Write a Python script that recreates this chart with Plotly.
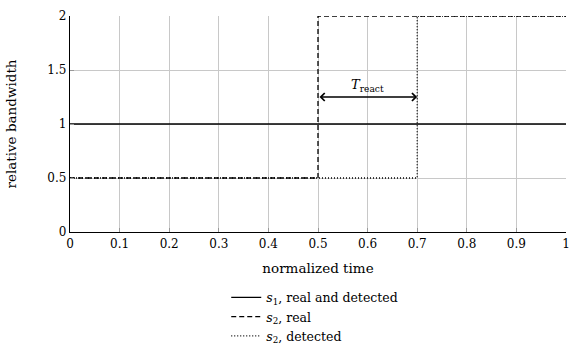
import plotly.graph_objects as go

s1_x = [0, 1]
s1_y = [1, 1]
s2_real_x = [0, 0.5, 0.5, 1]
s2_real_y = [0.5, 0.5, 2, 2]
s2_det_x = [0, 0.7, 0.7, 1]
s2_det_y = [0.5, 0.5, 2, 2]
x_ticks = [0, 0.1, 0.2, 0.3, 0.4, 0.5, 0.6, 0.7, 0.8, 0.9, 1]
y_ticks = [0, 0.5, 1, 1.5, 2]
react_start, react_end, react_y = 0.5, 0.7, 1.25

FONT = "DejaVu Serif, Liberation Serif, serif"

fig = go.Figure()
fig.add_trace(go.Scatter(x=s1_x, y=s1_y, mode="lines",
                         line=dict(color="black", width=1.3, dash="solid"),
                         name="<i>s</i><sub>1</sub>, real and detected"))
fig.add_trace(go.Scatter(x=s2_real_x, y=s2_real_y, mode="lines",
                         line=dict(color="black", width=1.3, dash="5px,3px"),
                         name="<i>s</i><sub>2</sub>, real"))
fig.add_trace(go.Scatter(x=s2_det_x, y=s2_det_y, mode="lines",
                         line=dict(color="black", width=1.3, dash="1px,2px"),
                         name="<i>s</i><sub>2</sub>, detected"))

fig.add_annotation(x=react_end, y=react_y, ax=react_start, ay=react_y,
                   xref="x", yref="y", axref="x", ayref="y",
                   text="", showarrow=True, arrowhead=4, arrowside="end+start",
                   arrowwidth=1.4, arrowcolor="black", arrowsize=1.1)
fig.add_annotation(x=(react_start + react_end) / 2, y=react_y, xref="x", yref="y",
                   text="<i>T</i><sub>react</sub>", showarrow=False,
                   yanchor="bottom", yshift=1,
                   font=dict(family=FONT, size=13, color="black"))

fig.update_xaxes(range=[0, 1], tickvals=x_ticks,
                 ticktext=[f"{v:g}" for v in x_ticks],
                 showgrid=True, gridcolor="#c8c8c8", gridwidth=1,
                 showline=True, linecolor="black", linewidth=1.3,
                 ticks="inside", ticklen=4, tickcolor="#999999",
                 zeroline=False, automargin=False, ticklabeloverflow="allow",
                 title=dict(text="normalized time", font=dict(family=FONT, size=13.5), standoff=14),
                 tickfont=dict(family=FONT, size=12, color="black"))
fig.update_yaxes(range=[0, 2], tickvals=y_ticks,
                 ticktext=[f"{v:g}" for v in y_ticks],
                 showgrid=True, gridcolor="#c8c8c8", gridwidth=1,
                 showline=True, linecolor="black", linewidth=1.3,
                 ticks="inside", ticklen=4, tickcolor="#999999",
                 zeroline=False, automargin=False,
                 title=dict(text="relative bandwidth", font=dict(family=FONT, size=13.5), standoff=27),
                 tickfont=dict(family=FONT, size=12, color="black"))

fig.update_layout(
    width=569, height=345,
    margin=dict(l=70, r=3, t=16, b=113, autoexpand=False),
    plot_bgcolor="white", paper_bgcolor="white",
    font=dict(family=FONT, size=12, color="black"),
    legend=dict(x=0.315, xanchor="left", y=-0.235, yanchor="top",
                orientation="v", bgcolor="rgba(0,0,0,0)",
                font=dict(family=FONT, size=12.5), tracegroupgap=0,
                itemwidth=30),
    showlegend=True,
)

fig.write_html("out.html", config={"displayModeBar": False},
               post_script="document.body.style.margin='0';")
